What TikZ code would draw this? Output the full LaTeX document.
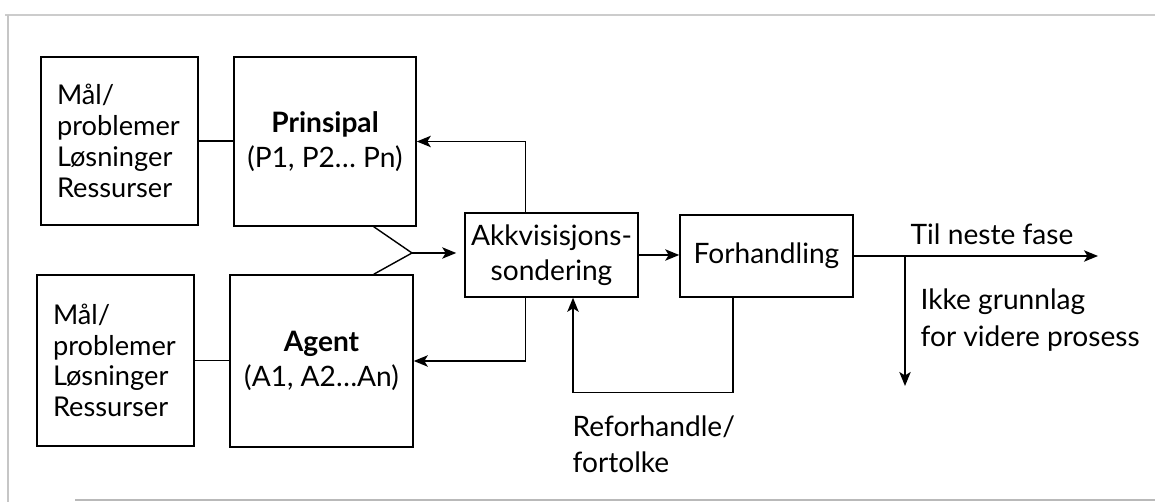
\documentclass[tikz,border=0pt]{standalone}
\usepackage{fontspec}
\setmainfont{Lato}
\usetikzlibrary{arrows.meta}

\tikzset{
  box/.style={draw, line width=0.9pt, inner sep=0pt, align=center},
  goalbox/.style={box, align=left, inner xsep=0.32cm, text width=2.5cm,
    font=\fontsize{15.5}{17.5}\selectfont},
  arr/.style={-{Stealth[length=8pt,width=6.5pt,inset=2pt]}, line width=0.8pt},
  lbl/.style={anchor=north west, align=left, inner sep=0pt}
}

\begin{document}
\begin{tikzpicture}[x=0.02cm, y=-0.02cm, line width=0.8pt,
    font=\fontsize{16}{20}\selectfont]
  \useasboundingbox (0,0) rectangle (1155,502);
  % scan frame
  \draw[gray!40, line width=1pt] (5,15) -- (1155,15);
  \draw[gray!45, line width=1pt] (8,15) -- (8,502);
  \draw[gray!55, line width=1pt] (75,500) -- (1155,500);

  \node[goalbox, minimum width=3.1cm, minimum height=3.36cm] (goalA) at (119.5,141)
    {Mål/\\problemer\\Løsninger\\Ressurser};
  \node[box, minimum width=3.64cm, minimum height=3.38cm] (prin) at (325,141.5)
    {\textbf{Prinsipal}\\(P1, P2\dots\ Pn)};
  \node[goalbox, minimum width=3.14cm, minimum height=3.42cm] (goalB) at (115.5,360.5)
    {Mål/\\problemer\\Løsninger\\Ressurser};
  \node[box, minimum width=3.66cm, minimum height=3.44cm] (agent) at (321.5,361)
    {\textbf{Agent}\\(A1, A2\dots An)};
  \node[box, minimum width=3.46cm, minimum height=1.68cm] (akk) at (551.5,255)
    {Akkvisisjons-\\sondering};
  \node[box, minimum width=3.46cm, minimum height=1.64cm] (forh) at (766.5,256)
    {Forhandling};

  \draw (goalA.east) -- (goalA.east -| prin.west);
  \draw (goalB.east) -- (goalB.east -| agent.west);

  % fork into acquisition probing
  \coordinate (fork) at (412,253);
  \draw ([xshift=-0.86cm]prin.south east) -- (fork) -- ([xshift=-0.8cm]agent.north east);
  \draw[arr, shorten >=0.16cm] (fork) -- (akk.west |- fork);

  % feedback to the parties
  \draw[arr] ([xshift=-0.52cm]akk.north) |- (prin.east);
  \draw[arr] ([xshift=-0.52cm]akk.south) |- (agent.east);

  \draw[arr] (akk.east) -- (akk.east -| forh.west);

  % renegotiation loop
  \draw[arr] ([xshift=-0.67cm]forh.south) -- ++(0,-1.9cm) -| ([xshift=0.43cm]akk.south);
  \node[lbl, font=\fontsize{16}{20.5}\selectfont] (reneg) at (572,415) {Reforhandle/\\fortolke};

  % outcomes
  \coordinate (next) at (1098,256);
  \coordinate (split) at (905,256);
  \coordinate (stop) at (905,386);
  \draw[arr] (forh.east) -- (next);
  \draw[arr] (split) -- (stop);
  \node[lbl, anchor=base west] (nextlbl) at (910,245) {Til neste fase};
  \node[lbl, font=\fontsize{16}{21}\selectfont] (stoplbl) at (920,288) {Ikke grunnlag\\for videre prosess};
\end{tikzpicture}
\end{document}
